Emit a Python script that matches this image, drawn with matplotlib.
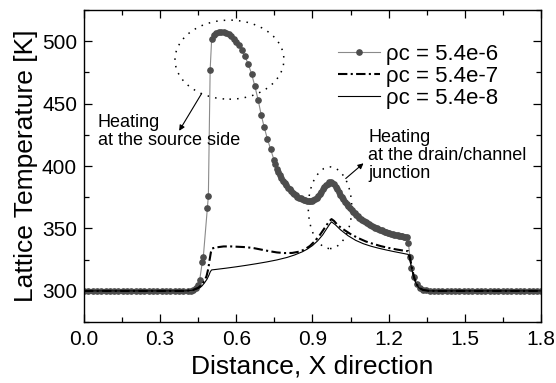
import matplotlib
matplotlib.use('Agg')
import matplotlib.pyplot as plt
from matplotlib.patches import Ellipse
from matplotlib.ticker import MultipleLocator, FormatStrFormatter

plt.rcParams['font.family'] = ['Liberation Sans', 'DejaVu Sans']

# rho_c = 5.4e-6 (markers)
x1 = [0.000, 0.017, 0.034, 0.051, 0.068, 0.085, 0.102, 0.119, 0.136, 0.153,
      0.170, 0.187, 0.204, 0.221, 0.238, 0.255, 0.272, 0.289, 0.306, 0.323,
      0.340, 0.357, 0.374, 0.391, 0.408, 0.420, 0.430, 0.440, 0.450, 0.456,
      0.466, 0.470, 0.486, 0.490, 0.497, 0.503, 0.512, 0.521, 0.530, 0.540,
      0.550, 0.560, 0.570, 0.580, 0.590, 0.600, 0.610, 0.621, 0.634, 0.647,
      0.660, 0.673, 0.686, 0.698, 0.710, 0.722, 0.735, 0.748, 0.754, 0.760,
      0.766, 0.772, 0.778, 0.785, 0.791, 0.797, 0.803, 0.810, 0.816, 0.822,
      0.828, 0.835, 0.841, 0.847, 0.853, 0.860, 0.866, 0.872, 0.878, 0.885,
      0.891, 0.897, 0.903, 0.910, 0.916, 0.922, 0.928, 0.935, 0.941, 0.947,
      0.953, 0.960, 0.966, 0.972, 0.978, 0.985, 0.991, 0.997, 1.003, 1.010,
      1.016, 1.022, 1.028, 1.035, 1.041, 1.048, 1.054, 1.060, 1.066, 1.072,
      1.078, 1.085, 1.091, 1.097, 1.103, 1.110, 1.116, 1.122, 1.128, 1.135,
      1.141, 1.147, 1.153, 1.160, 1.166, 1.172, 1.178, 1.185, 1.191, 1.197,
      1.203, 1.210, 1.216, 1.222, 1.228, 1.235, 1.241, 1.247, 1.253, 1.260,
      1.266, 1.272, 1.278, 1.284, 1.290, 1.298, 1.310, 1.322, 1.335, 1.347,
      1.362, 1.377, 1.394, 1.411, 1.428, 1.445, 1.462, 1.479, 1.496, 1.513,
      1.530, 1.547, 1.564, 1.581, 1.598, 1.615, 1.632, 1.649, 1.666, 1.683,
      1.700, 1.717, 1.734, 1.751, 1.768, 1.785, 1.800]
T1 = [300, 300, 300, 300, 300, 300, 300, 300, 300, 300,
      300, 300, 300, 300, 300, 300, 300, 300, 300, 300,
      300, 300, 300, 300, 300, 300.3, 301, 302.5, 304.5, 309,
      323, 327, 366, 376, 477, 502, 505, 506.3, 507, 507.2,
      507, 506.4, 505.4, 503.8, 501.8, 499.6, 497, 493, 488, 481.5,
      474, 464, 453, 441, 431, 422, 413.5, 405, 401.3, 398,
      395, 392.5, 390.2, 388, 386.2, 384.5, 382.8, 381.3, 380, 378.7,
      377.5, 376.4, 375.5, 374.7, 374, 373.3, 372.8, 372.4, 372.1, 372,
      372.1, 372.3, 372.8, 373.6, 374.7, 376, 377.7, 379.5, 381.3, 383,
      384.6, 386, 387, 387.5, 386.8, 385.5, 383.6, 381.5, 379.2, 377,
      375, 373.2, 371.4, 369.6, 367.9, 366.3, 364.8, 363.4, 362.1, 360.8,
      359.7, 358.6, 357.6, 356.6, 355.7, 354.9, 354.1, 353.4, 352.7, 352,
      351.3, 350.7, 350.1, 349.5, 348.9, 348.4, 347.9, 347.4, 346.9, 346.5,
      346.1, 345.7, 345.3, 345, 344.7, 344.4, 344.1, 343.9, 343.7, 343.5,
      343.3, 343.1, 338, 327, 318, 311, 305.5, 302.5, 301, 300.4,
      300, 300, 300, 300, 300, 300, 300, 300, 300, 300,
      300, 300, 300, 300, 300, 300, 300, 300, 300, 300,
      300, 300, 300, 300, 300, 300, 300]

# rho_c = 5.4e-7 (dash-dot)
x2 = [0, 0.40, 0.43, 0.45, 0.465, 0.475, 0.483, 0.49, 0.495, 0.50,
      0.505, 0.52, 0.55, 0.58, 0.61, 0.64, 0.67, 0.70, 0.73, 0.76,
      0.79, 0.82, 0.85, 0.87, 0.89, 0.91, 0.93, 0.95, 0.965, 0.975,
      0.985, 1.00, 1.02, 1.05, 1.08, 1.11, 1.14, 1.17, 1.20, 1.23,
      1.26, 1.277, 1.283, 1.29, 1.30, 1.31, 1.32, 1.335, 1.36, 1.8]
T2 = [300, 300, 300.8, 302.5, 305, 308, 312, 318, 325, 331,
      334, 334.8, 335.6, 335.6, 335.3, 335, 334.2, 333, 331.8, 330.8,
      330.3, 330.4, 331.5, 333.3, 336, 340, 345, 351, 355.5, 357.5,
      356, 352.5, 349.5, 345.5, 342.3, 339.6, 337.6, 335.8, 334.4, 333.2,
      332.2, 331.8, 328, 320, 311, 305.5, 302.5, 300.8, 300, 300]

# rho_c = 5.4e-8 (solid)
x3 = [0, 0.40, 0.43, 0.45, 0.465, 0.475, 0.485, 0.492, 0.498, 0.503,
      0.52, 0.56, 0.60, 0.64, 0.68, 0.72, 0.76, 0.80, 0.83, 0.86,
      0.88, 0.90, 0.92, 0.94, 0.955, 0.968, 0.975, 0.99, 1.01, 1.04,
      1.07, 1.10, 1.13, 1.16, 1.19, 1.22, 1.25, 1.277, 1.283, 1.29,
      1.30, 1.31, 1.32, 1.335, 1.36, 1.8]
T3 = [300, 300, 300.6, 302, 304, 306.5, 309.5, 312.5, 315.5, 316.8,
      317.2, 318.2, 319.3, 320.5, 321.8, 323.2, 324.8, 326.8, 328.8, 331.3,
      333.5, 336.3, 340, 344.8, 349.5, 353.5, 355.3, 353, 349, 344.2,
      340.5, 337.8, 335.8, 334.2, 332.8, 331.5, 330.3, 329.2, 325.5, 318.5,
      310, 305, 302.3, 300.7, 300, 300]

labels = ['\u03c1c = 5.4e-6', '\u03c1c = 5.4e-7', '\u03c1c = 5.4e-8']

fig = plt.figure(figsize=(5.56, 3.83), dpi=100)
ax = fig.add_axes([0.151, 0.159, 0.822, 0.815])

ax.plot(x1, T1, color='#8a8a8a', lw=0.8, marker='o', ms=3.8,
        mfc='#4d4d4d', mec='#4d4d4d', label=labels[0])
ax.plot(x2, T2, color='black', lw=1.5, dashes=(4.5, 1.6, 1.0, 1.6), label=labels[1])
ax.plot(x3, T3, color='black', lw=0.8, label=labels[2])

# dotted ellipses
ax.add_patch(Ellipse((0.573, 485.2), 0.429, 63.3, fill=False, ec='black',
                     lw=1.1, ls=(0, (1, 4))))
ax.add_patch(Ellipse((0.969, 366.6), 0.171, 65.4, fill=False, ec='black',
                     lw=1.1, ls=(0, (1, 4))))

arrow = dict(arrowstyle='-|>', color='black', lw=0.8, mutation_scale=8,
             shrinkA=0, shrinkB=0)
ax.annotate('', xy=(0.375, 428.2), xytext=(0.4635, 458.1), arrowprops=arrow)
ax.annotate('', xy=(1.101, 402.2), xytext=(1.031, 390.0), arrowprops=arrow)
ax.text(0.054, 427.5, 'Heating\nat the source side', fontsize=13,
        ha='left', va='center', linespacing=1.1)
ax.text(1.12, 408.3, 'Heating\nat the drain/channel\njunction', fontsize=13,
        ha='left', va='center', linespacing=1.1)

ax.set_xlim(0, 1.8)
ax.set_ylim(275, 525)
ax.xaxis.set_major_locator(MultipleLocator(0.3))
ax.xaxis.set_minor_locator(MultipleLocator(0.15))
ax.xaxis.set_major_formatter(FormatStrFormatter('%.1f'))
ax.yaxis.set_minor_locator(MultipleLocator(25))
ax.set_yticks([300, 350, 400, 450, 500])
ax.tick_params(which='both', direction='in', top=True, right=True, labelsize=15)
ax.tick_params(which='major', length=6, width=0.9)
ax.tick_params(which='minor', length=3.5, width=0.9)
ax.tick_params(axis='x', pad=6)
ax.tick_params(axis='y', pad=5)
for s in ax.spines.values():
    s.set_linewidth(1.0)

ax.set_xlabel('Distance, X direction', fontsize=19, labelpad=4)
ax.set_ylabel('Lattice Temperature [K]', fontsize=19, labelpad=3)

ax.legend(loc='center', bbox_to_anchor=(0.731, 0.788), frameon=False,
          fontsize=16, numpoints=1, handlelength=1.9, handletextpad=0.3,
          labelspacing=0.05, borderpad=0, borderaxespad=0)

fig.savefig('out.png', dpi=100)
